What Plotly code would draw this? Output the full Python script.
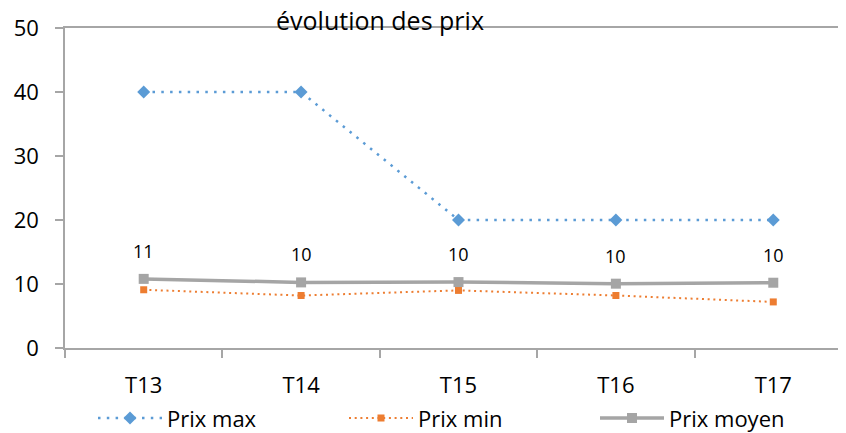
import plotly.graph_objects as go

categories = ["T13", "T14", "T15", "T16", "T17"]
prix_max = [40, 40, 20, 20, 20]
prix_min = [9.1, 8.2, 9.0, 8.2, 7.2]
prix_moyen = [10.8, 10.25, 10.3, 10.05, 10.2]
y_ticks = [0, 10, 20, 30, 40, 50]

FONT = "Open Sans"
AXIS_COLOR = "#A6A6A6"

# the page body has an 8px default margin; the figure is sized to compensate
W, H = 838, 425

fig = go.Figure()
fig.add_trace(go.Scatter(
    x=categories, y=prix_max, name="Prix max", mode="lines+markers",
    line=dict(color="#5B9BD5", width=2.5, dash="2.5px,6.3px"),
    marker=dict(symbol="diamond", size=10, color="#5B9BD5"),
))
fig.add_trace(go.Scatter(
    x=categories, y=prix_min, name="Prix min", mode="lines+markers",
    line=dict(color="#ED7D31", width=2, dash="2px,3.7px"),
    marker=dict(symbol="square", size=7, color="#ED7D31"),
))
fig.add_trace(go.Scatter(
    x=categories, y=prix_moyen, name="Prix moyen", mode="lines+markers",
    line=dict(color="#A5A5A5", width=3.5),
    marker=dict(symbol="square", size=10, color="#A5A5A5"),
))

for c, v in zip(categories, prix_moyen):
    fig.add_annotation(x=c, y=v, text=f"{v:.0f}", showarrow=False,
                       yshift=28, font=dict(family=FONT, size=18, color="#000"))

fig.update_layout(
    width=W, height=H,
    margin=dict(l=57, r=0, t=20, b=85, autoexpand=False),
    paper_bgcolor="white", plot_bgcolor="white",
    font=dict(family=FONT, size=22, color="#000"),
    title=dict(text="évolution des prix", x=(380 - 8) / W, xanchor="center",
               y=1 - 13 / H, yanchor="middle", automargin=False,
               font=dict(family=FONT, size=25, color="#000")),
    showlegend=True,
    legend=dict(orientation="h", x=(93 - 65) / 781, xanchor="left",
                y=-0.154, yanchor="top", entrywidth=172, itemwidth=64,
                font=dict(family=FONT, size=22, color="#000"),
                bgcolor="rgba(0,0,0,0)"),
    xaxis=dict(type="category", range=[-0.5, 4.462], showgrid=False,
               showline=True, linecolor=AXIS_COLOR, linewidth=2, mirror=True,
               ticks="outside", ticklen=8, tickcolor=AXIS_COLOR, tickwidth=1.5,
               tickson="boundaries", ticklabelstandoff=17, automargin=False,
               tickfont=dict(family=FONT, size=22, color="#000"), zeroline=False),
    yaxis=dict(range=[0, 50], tickvals=y_ticks, showgrid=False,
               showline=True, linecolor=AXIS_COLOR, linewidth=1.5,
               ticks="outside", ticklen=8, tickcolor=AXIS_COLOR, tickwidth=1.5,
               ticklabelstandoff=12, automargin=False,
               tickfont=dict(family=FONT, size=22, color="#000"), zeroline=False),
)

fig.write_html("out.html")
